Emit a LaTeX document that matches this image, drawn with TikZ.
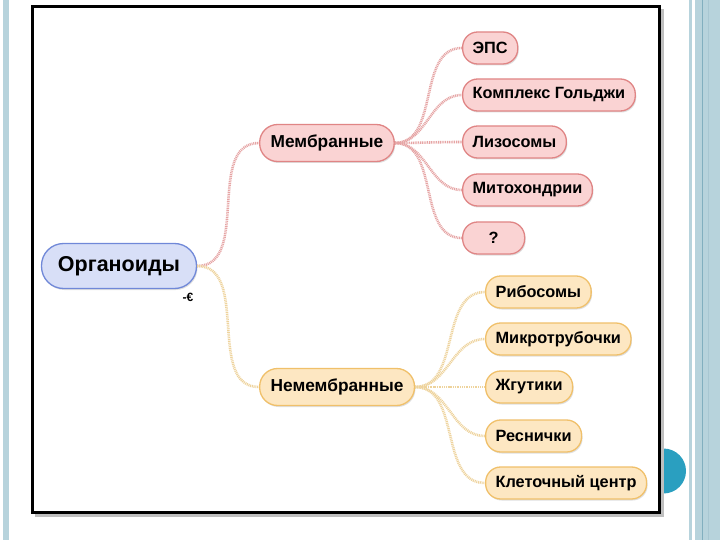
\documentclass[tikz,border=0pt]{standalone}
\usepackage{fontspec}
\setmainfont{Liberation Sans}
\usepackage{tikz}
\usetikzlibrary{positioning}
\usetikzlibrary{shadows}
\definecolor{rootfill}{HTML}{D8DFF7}
\definecolor{rootline}{HTML}{7088D8}
\definecolor{pinkfill}{HTML}{FAD3D3}
\definecolor{pinkline}{HTML}{E08585}
\definecolor{pinkedge}{HTML}{E6A4A4}
\definecolor{orfill}{HTML}{FDE7C2}
\definecolor{orline}{HTML}{F0C06A}
\definecolor{oredge}{HTML}{EED39C}
\definecolor{slideblue}{HTML}{B7D3DC}
\definecolor{slidedark}{HTML}{82AFBF}
\definecolor{teal}{HTML}{2A9FC0}
\tikzstyle{rootnode} = [draw=rootline, fill=rootfill, line width=1.3pt, rounded corners=22pt, minimum height=45pt, minimum width=155pt, font=\bfseries\fontsize{21.5}{24}\selectfont, drop shadow={shadow xshift=1pt, shadow yshift=-1.5pt, opacity=0.25}]
\tikzstyle{midnode} = [line width=1.3pt, rounded corners=18pt, minimum height=37pt, inner xsep=11pt, anchor=west, font=\bfseries\fontsize{17.3}{20}\selectfont, drop shadow={shadow xshift=1pt, shadow yshift=-1.5pt, opacity=0.25}]
\tikzstyle{leafnode} = [line width=1.3pt, rounded corners=15pt, minimum height=32pt, inner xsep=10pt, anchor=west, font=\bfseries\fontsize{16.3}{19}\selectfont, drop shadow={shadow xshift=1pt, shadow yshift=-1.5pt, opacity=0.25}]
\tikzstyle{pinkbox} = [draw=pinkline, fill=pinkfill]
\tikzstyle{orbox} = [draw=orline, fill=orfill]
\tikzstyle{pinklink} = [pinkedge, line width=2.6pt, dash pattern=on 1pt off 0.8pt, out=0, in=180]
\tikzstyle{orlink} = [oredge, line width=2.6pt, dash pattern=on 1pt off 0.8pt, out=0, in=180]

\begin{document}
\begin{tikzpicture}[x=1pt, y=-1pt]
        \useasboundingbox (0,0) rectangle (720,540);
        
        % Slide frame
        \fill[slideblue] (3,0) rectangle (9,540);
        \fill[slideblue] (689,0) rectangle (692,540);
        \fill[slideblue] (695,0) rectangle (720,540);
        \draw[slidedark, line width=1pt] (702,0) -- (702,540);
        \draw[slidedark!70, line width=1pt] (708,0) -- (708,540);
        \fill[teal] (663.5,471) circle (22.5);
        \fill[black!25] (35,9) rectangle (664,517);
        \draw[line width=3pt, fill=white] (32.5,6.5) rectangle (659.5,512.5);
        
        % Vertices
        \node[rootnode] (org) at (119,266) {Органоиды};
        \node[font=\bfseries\fontsize{12}{13}\selectfont] (plug) at (188,297) {-€};
        \node[midnode, pinkbox] (memb) at (259,143) {Мембранные};
        \node[midnode, orbox] (nemb) at (259,387) {Немембранные};
        
        \node[leafnode, pinkbox] (m_1) at (462,48) {ЭПС};
        \node[leafnode, pinkbox] (m_2) at (462,95) {Комплекс Гольджи};
        \node[leafnode, pinkbox] (m_3) at (462,142) {Лизосомы};
        \node[leafnode, pinkbox] (m_4) at (462,190) {Митохондрии};
        \node[leafnode, pinkbox, minimum width=62pt] (m_5) at (462,238) {?};
        
        \node[leafnode, orbox] (n_1) at (485,292) {Рибосомы};
        \node[leafnode, orbox] (n_2) at (485,339) {Микротрубочки};
        \node[leafnode, orbox] (n_3) at (485,387) {Жгутики};
        \node[leafnode, orbox] (n_4) at (485,436) {Реснички};
        \node[leafnode, orbox] (n_5) at (485,483) {Клеточный центр};
        
        % Branches
        \draw[pinklink] (org.east) to (memb.west);
        \draw[orlink] (org.east) to (nemb.west);
        
        \draw[pinklink] (memb.east) to (m_1.west);
        \draw[pinklink] (memb.east) to (m_2.west);
        \draw[pinklink] (memb.east) to (m_3.west);
        \draw[pinklink] (memb.east) to (m_4.west);
        \draw[pinklink] (memb.east) to (m_5.west);
        
        \draw[orlink] (nemb.east) to (n_1.west);
        \draw[orlink] (nemb.east) to (n_2.west);
        \draw[orlink] (nemb.east) to (n_3.west);
        \draw[orlink] (nemb.east) to (n_4.west);
        \draw[orlink] (nemb.east) to (n_5.west);
     \end{tikzpicture}
\end{document}
